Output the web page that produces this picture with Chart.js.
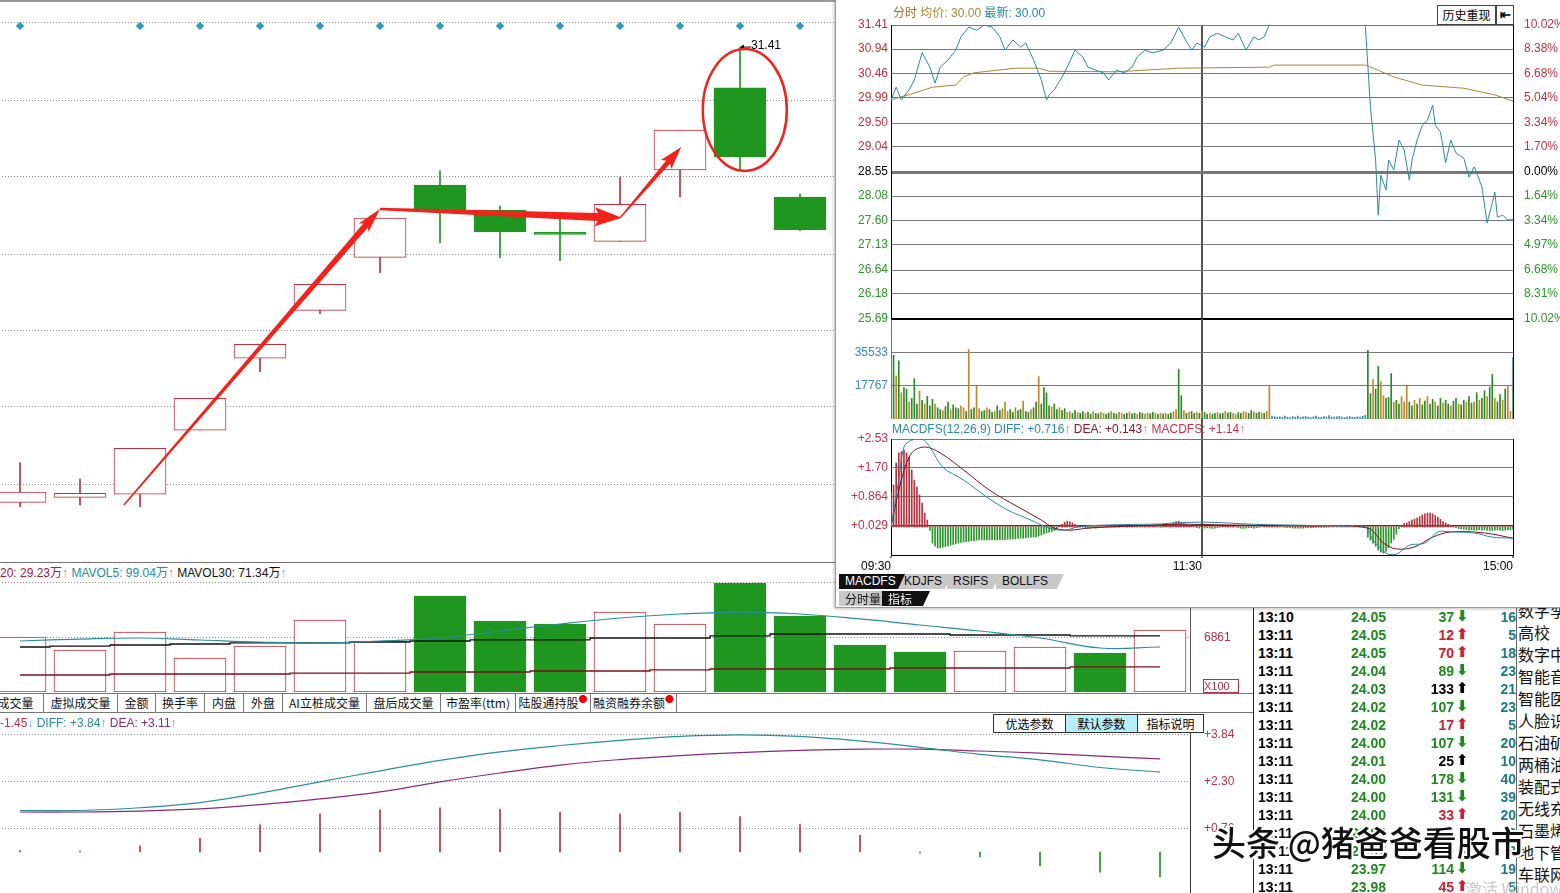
<!DOCTYPE html>
<html><head><meta charset="utf-8">
<script src="https://cdn.jsdelivr.net/npm/chart.js@4.4.1/dist/chart.umd.min.js"></script>
<style>
html,body{margin:0;padding:0;background:#fff;overflow:hidden;width:1560px;height:893px;font-family:'Liberation Sans','Noto Sans CJK SC',sans-serif;}
.a{position:absolute;white-space:nowrap;}
.ln{position:absolute;}
.ltab{position:absolute;top:694px;height:18px;line-height:18px;font-size:12px;text-align:center;border-right:1px solid #777;background:#fff;font-family:'Noto Sans CJK SC','Liberation Sans',sans-serif;color:#111;}
.dot{color:#e00;font-size:9px;vertical-align:top;line-height:9px;}
.btn{position:absolute;top:714px;height:17px;line-height:17px;font-size:12px;text-align:center;border:1px solid #333;background:#fff;font-family:'Noto Sans CJK SC',sans-serif;}
.otab{position:absolute;height:15px;line-height:15px;font-size:12px;padding-left:6px;clip-path:polygon(0 0,100% 0,calc(100% - 7px) 100%,0 100%);}
.tr{position:absolute;left:0;width:262px;height:18px;font:bold 14px 'Liberation Sans',sans-serif;line-height:18px;}
.tr span{position:absolute;}
</style></head><body>
<script>
// ---------------- daily data (left panel) ----------------
const dayLabels = ['D01','D02','D03','D04','D05','D06','D07','D08','D09','D10','D11','D12','D13','D14','D15','D16','D17','D18','D19','D20'];
const candleOpen  = [15.71,15.88,15.99,18.20,20.68,22.33,24.16,26.65,25.79,24.96,24.71,27.17,30.00,26.24];
const candleClose = [16.06,16.02,17.57,19.30,21.16,23.23,25.51,25.79,25.04,24.95,25.99,28.55,27.62,25.11];
const candleHigh  = [17.08,16.52,17.57,19.30,21.16,23.23,25.51,27.14,25.93,25.51,26.93,28.55,31.41,26.34];
const candleLow   = [15.56,15.62,15.56,18.20,20.22,22.22,23.63,24.66,24.15,24.04,24.71,26.24,27.17,25.08];
const markerFlags = [1,0,1,1,1,1,1,1,1,1,1,1,1,1];
const markerLevel = 32.14;
const priceGrid = [32.24,29.58,26.93,24.27,21.65,19.00,16.34];

const volumes = [69.9,53.4,76.2,43.2,58.5,91.5,64.8,122.0,90.2,86.4,101.6,86.4,138.5,96.6,59.7,50.8,52.1,57.2,49.6,78.8];
const volUp   = [1,1,1,1,1,1,1,0,0,0,1,1,0,0,0,0,1,1,0,1];
const mavol5  = [64.8,67.3,68.6,66.1,63.5,62.3,64.8,68.6,77.5,86.4,94.0,99.1,101.6,99.1,92.8,85.1,77.5,68.6,55.9,57.2];
const mavol30 = [57.2,58.4,59.7,61.0,62.3,62.3,63.5,64.8,66.1,66.1,68.6,68.6,71.2,73.7,73.7,73.7,72.4,72.4,71.2,71.2];
const mavol20 = [21.6,21.6,22.9,22.9,22.9,24.1,24.1,25.4,25.4,26.7,26.7,28.0,29.2,29.2,29.2,30.5,30.5,30.5,31.8,31.8];
const volGrid = [68.61,138.5];
const volTickLabels = ['6861',''];

const difLine = [1.36,1.36,1.45,1.62,1.93,2.30,2.66,3.00,3.28,3.49,3.66,3.79,3.84,3.79,3.64,3.43,3.20,3.02,2.77,2.62];
const deaLine = [1.31,1.31,1.34,1.41,1.55,1.74,1.97,2.30,2.59,2.85,3.03,3.16,3.26,3.33,3.37,3.37,3.31,3.24,3.14,3.05];
const macdBars = [0.05,0.03,0.20,0.45,0.89,1.25,1.38,1.45,1.40,1.30,1.25,1.30,1.16,0.90,0.55,-0.03,-0.16,-0.46,-0.66,-0.82];
const macdGrid = [3.84,2.30,0.76];
const macdTickLabels = ['+3.84','+2.30','+0.76'];

// ---------------- intraday data (right window) ----------------
const fsMinutes = [0,2,4,7,9,12,15,17,19,22,25,27,30,33,36,39,42,44,47,50,52,55,58,60,61,63,66,68,71,74,76,79,82,84,87,90,93,95,98,101,105,108,111,113,116,118,121,123,126,129,132,134,137,140,142,144,146,183,185,187,188,189,191,192,194,196,198,200,201,203,205,207,209,210,212,214,216,218,221,223,225,226,228,230,232,233,234,236,238,240];
const fsPrice = [29.95,30.20,29.95,30.15,30.34,30.87,30.59,30.28,30.59,30.73,30.92,31.18,31.37,31.31,31.41,31.37,31.18,30.92,31.12,30.98,31.06,30.73,30.34,29.95,30.05,30.15,30.40,30.59,30.92,30.79,30.59,30.53,30.48,30.34,30.53,30.48,30.59,30.79,30.92,30.87,30.92,31.06,31.37,31.18,30.92,31.06,30.98,31.18,31.25,31.18,31.12,31.25,30.92,31.18,31.12,31.18,31.41,31.41,29.81,28.78,27.71,28.49,28.20,28.78,28.59,29.17,28.98,28.39,28.78,29.17,29.46,29.56,29.85,29.46,29.33,28.73,29.17,28.92,28.82,28.45,28.65,28.53,28.26,27.56,27.95,28.16,27.67,27.71,27.62,27.62];
const avgMinutes = [0,5,10,16,20,25,28,32,41,48,57,61,87,111,146,148,183,188,194,205,221,233,240];
const avgPrice = [29.95,30.03,30.10,30.20,30.22,30.24,30.40,30.48,30.53,30.57,30.57,30.51,30.50,30.57,30.59,30.63,30.63,30.53,30.40,30.24,30.18,30.05,29.93];
const fsPriceTicks = [31.41,30.94,30.46,29.99,29.50,29.04,28.55,28.08,27.60,27.13,26.64,26.18,25.69];
const fsPctLabels = ['10.02%','8.38%','6.68%','5.04%','3.34%','1.70%','0.00%','1.64%','3.34%','4.97%','6.68%','8.31%','10.02%'];
const prevClose = 28.55;

const fsVolume = [
53000,34000,23000,31000,14000,16700,16000,9000,11000,21500,8000,15000,10000,8000,12000,
7000,10500,8000,6000,5000,4500,6500,9000,5000,7500,6000,5500,7000,6000,4000,
37000,5000,6000,17700,5500,4000,4500,6000,5000,3500,4000,7000,4500,5500,9000,
4000,5000,3500,6000,4500,5000,9500,4000,3500,5000,6000,9000,22600,8000,16700,
14000,7000,6500,8000,5000,6000,4500,5500,3500,4000,3000,4500,3500,3000,4000,
3000,3500,2500,4000,3000,2800,3500,3000,2500,3200,4000,3000,2600,3500,3000,
2500,3000,3800,2800,3000,2500,3500,3000,2600,3200,2800,3500,3000,2500,3000,
2800,3000,2500,3200,4000,5000,26400,12400,4500,3000,3500,4000,3000,3500,3000,
4500,3500,2500,3000,2500,3000,3500,2800,3000,4000,3200,3500,3000,2600,3500,
3000,4000,3500,3000,4500,3800,3000,3500,3200,3000,4000,17700,1500,1200,1000,
1200,900,1500,1000,800,1300,1000,1600,900,1100,1400,1000,800,1200,1500,900,1000,1300,1100,1800,1000,900,1200,1400,1000,800,1100,1300,1000,900,1200,1000,1500,2000,
36600,13500,21000,16000,28000,20000,12400,11000,11500,24200,9000,10000,8000,12000,9000,
17700,9000,7000,10000,8000,11000,7500,9500,12000,8000,10500,9000,7000,11000,8500,
10000,8000,7000,9500,11000,8000,7500,10000,9000,12000,8500,9000,14000,10000,11000,
15000,12000,17000,23700,11000,9000,13000,10000,16000,17700,4000,32800];
const fsTickDir =
 'udududdudddudud'+'dduddudduddduud'+'udduudduddudduu'+'udduddudduddudd'+'dduddudduuddudd'+
 'uddudduuddudduu'+'dduddudduuddudu'+'dudduuddududdud'+'uddudduddudduud'+'duuddudduduufff'+
 'ffffffffffffffffffffffffffffffffff'+
 'ddudduudddudduu'+'uddududdudduddu'+'dduddudduddudud'+'duddudduduuf';
const fsVolTicks = [17767,35533];

const fsMacd = [
1.00,1.21,1.84,2.13,2.16,2.21,2.13,2.01,1.64,1.35,1.15,0.92,0.69,0.40,0.20,
-0.10,-0.46,-0.55,-0.60,-0.60,-0.58,-0.56,-0.54,-0.52,-0.50,-0.48,-0.46,-0.44,-0.43,-0.42,
-0.41,-0.40,-0.39,-0.38,-0.37,-0.37,-0.37,-0.37,-0.37,-0.37,-0.37,-0.37,-0.36,-0.36,-0.36,
-0.35,-0.35,-0.34,-0.34,-0.33,-0.32,-0.32,-0.31,-0.30,-0.29,-0.29,-0.28,-0.26,-0.23,-0.20,
-0.17,-0.15,-0.13,-0.10,-0.06,0.02,0.08,0.14,0.17,0.15,0.12,0.08,0.05,0.03,0.01,
-0.02,-0.03,-0.03,-0.02,-0.03,-0.02,-0.01,0.00,0.02,0.03,0.04,0.05,0.03,0.02,0.01,
0.00,0.02,0.03,0.04,0.05,0.06,0.04,0.03,0.02,0.03,0.04,0.03,0.02,0.00,-0.01,
0.02,0.03,0.05,0.08,0.12,0.16,0.17,0.14,0.10,0.07,0.04,0.02,0.00,-0.02,-0.03,
-0.04,-0.03,-0.02,-0.03,-0.04,-0.03,-0.02,0.00,0.02,0.03,0.04,0.03,0.02,0.00,-0.02,
-0.03,-0.04,-0.03,-0.02,-0.02,-0.03,-0.02,-0.01,0.00,0.02,0.04,0.05,0.04,0.03,0.02,
0.01,0.00,-0.01,-0.02,-0.02,-0.03,-0.03,-0.03,-0.03,-0.03,-0.02,-0.02,-0.02,-0.02,-0.01,-0.01,-0.01,-0.01,-0.01,0,0,0,0,0,0,0,0,0,0,0,0,0,0,0,
-0.29,-0.37,-0.46,-0.55,-0.66,-0.72,-0.75,-0.70,-0.60,-0.46,-0.35,-0.20,-0.05,0.05,0.10,
0.12,0.16,0.20,0.23,0.26,0.30,0.35,0.38,0.40,0.40,0.38,0.33,0.28,0.22,0.16,
0.12,0.08,0.05,0.02,-0.02,-0.04,-0.05,-0.06,-0.07,-0.08,-0.08,-0.09,-0.09,-0.08,-0.09,
-0.08,-0.09,-0.10,-0.09,-0.09,-0.08,-0.09,-0.10,-0.09,-0.08,-0.08,-0.07];
const diffMin = [0,3,5,8,12,15,20,28,37,45,54,61,67,72,80,90,104,110,122,140,160,175,183,186,191,195,200,206,211,216,225,232,240];
const diffVal = [0.0,1.35,2.30,2.50,2.53,2.30,1.72,1.35,0.86,0.49,0.20,-0.03,-0.09,0.0,0.05,0.07,0.09,0.12,0.14,0.08,0.05,0.03,0.0,-0.37,-0.75,-0.78,-0.52,-0.46,-0.14,-0.14,-0.17,-0.29,-0.32];
const deaMin = [0,4,8,13,19,28,38,49,58,63,69,76,90,110,130,160,184,190,195,202,209,216,229,240];
const deaVal = [0.0,1.35,2.13,2.30,2.13,1.64,1.06,0.58,0.20,-0.03,-0.09,-0.03,0.02,0.08,0.06,0.03,-0.03,-0.46,-0.63,-0.57,-0.29,-0.14,-0.17,-0.32];
const fsMacdTicks = [2.53,1.70,0.864,0.029];
const fsMacdLabels = ['+2.53','+1.70','+0.864','+0.029'];
const timeTickMinutes = [0,120,240];
const timeTickLabels = ['09:30','11:30','15:00'];

// ---------------- trade list ----------------
const tradeTimes  = ['13:10','13:11','13:11','13:11','13:11','13:11','13:11','13:11','13:11','13:11','13:11','13:11','13:11','13:11','13:11','13:11'];
const tradePrices = ['24.05','24.05','24.05','24.04','24.03','24.02','24.02','24.00','24.01','24.00','24.00','24.00','23.98','23.97','23.97','23.98'];
const tradeVols   = [37,12,70,89,133,107,17,107,25,178,131,33,21,9,114,45];
const tradeDirs   = ['d','u','u','d','n','d','u','d','n','d','d','u','d','d','d','u'];
const tradeCounts = [16,5,18,23,21,23,5,20,10,40,39,20,2,3,19,5];
const sectorNames = ['数字孪','高校','数字中','智能音','智能医','人脸识','石油矿','两桶油','装配式','无线充','石墨烯','地下管','车联网'];

// ---------------- setup ----------------
const RED = '#c0303c', GREEN = '#1f961f', TEAL = '#2a8a9a';
Chart.defaults.font.family = "'Liberation Sans','Noto Sans CJK SC',sans-serif";
Chart.defaults.font.size = 12;
Chart.defaults.color = '#000';
Chart.defaults.animation = false;
Chart.defaults.responsive = false;
Chart.defaults.maintainAspectRatio = false;
Chart.defaults.devicePixelRatio = 1;
Chart.defaults.events = [];
Chart.defaults.layout.autoPadding = false;
Chart.defaults.plugins.legend.display = false;
Chart.defaults.plugins.tooltip.enabled = false;

function cv(left, top, w, h, z){
  const c = document.createElement('canvas');
  c.width = w; c.height = h;
  c.style.cssText = `position:absolute;left:${left}px;top:${top}px;width:${w}px;height:${h}px;z-index:${z}`;
  document.body.appendChild(c);
  return c;
}
const setTicks = vals => s => { s.ticks = vals.map(v => ({value: v})); };
// fixed axis sizes, and no extra label padding pushed into the layout
const fitW = w => s => { s.width = w; s.paddingTop = 0; s.paddingBottom = 0; };
const fitH = h => s => { s.height = h; s.paddingLeft = 0; s.paddingRight = 0; };

// ---------- annotation plugin (hand drawn arrows on the daily chart) ----------
const drawMarks = {
  arrows: [
    {from:[1.73,15.62], to:[6.0,25.83], w0:1.5, w1:6, hw:13, hl:22},
    {from:[6.0,25.83], to:[10.03,25.52], w0:2.5, w1:8, hw:19, hl:24},
    {from:[10.0,25.52], to:[11.02,27.96], w0:1.5, w1:5, hw:14, hl:20}
  ],
  ring: {center:[12.08,29.24], rx:0.7, ry:2.1}
};
const annotate = {
  id:'annotate',
  afterDatasetsDraw(chart){
    const {ctx, scales:{x, y}} = chart;
    ctx.save();
    let hi = 0; candleHigh.forEach((v,i)=>{ if (v > candleHigh[hi]) hi = i; });
    const hx = x.getPixelForValue(hi), hy = y.getPixelForValue(candleHigh[hi]);
    ctx.strokeStyle = '#000'; ctx.fillStyle = '#000'; ctx.lineWidth = 1;
    ctx.beginPath(); ctx.moveTo(hx+1, hy); ctx.lineTo(hx+11, hy); ctx.stroke();
    ctx.beginPath(); ctx.moveTo(hx, hy); ctx.lineTo(hx+4, hy-2.5); ctx.lineTo(hx+4, hy+2.5); ctx.closePath(); ctx.fill();
    ctx.font = "12px 'Liberation Sans'"; ctx.textBaseline = 'middle'; ctx.textAlign = 'left';
    ctx.fillText(candleHigh[hi].toFixed(2), hx+11, hy-1);
    ctx.fillStyle = '#f2221c';
    drawMarks.arrows.forEach(a => {
      const x1 = x.getPixelForValue(a.from[0]), y1 = y.getPixelForValue(a.from[1]);
      const x2 = x.getPixelForValue(a.to[0]), y2 = y.getPixelForValue(a.to[1]);
      const dx = x2-x1, dy = y2-y1, L = Math.hypot(dx,dy), ux = dx/L, uy = dy/L, nx = -uy, ny = ux;
      const bx = x2-ux*a.hl, by = y2-uy*a.hl;
      ctx.beginPath();
      ctx.moveTo(x1+nx*a.w0/2, y1+ny*a.w0/2);
      ctx.lineTo(bx+nx*a.w1/2, by+ny*a.w1/2);
      ctx.lineTo(bx+nx*a.hw/2 - ux*3, by+ny*a.hw/2 - uy*3);
      ctx.lineTo(x2, y2);
      ctx.lineTo(bx-nx*a.hw/2 - ux*3, by-ny*a.hw/2 - uy*3);
      ctx.lineTo(bx-nx*a.w1/2, by-ny*a.w1/2);
      ctx.lineTo(x1-nx*a.w0/2, y1-ny*a.w0/2);
      ctx.closePath(); ctx.fill();
    });
    const r = drawMarks.ring;
    const cx = x.getPixelForValue(r.center[0]), cy = y.getPixelForValue(r.center[1]);
    const rx = x.getPixelForValue(r.center[0]+r.rx) - cx, ry = cy - y.getPixelForValue(r.center[1]+r.ry);
    ctx.strokeStyle = '#f2221c'; ctx.lineWidth = 2.5;
    ctx.beginPath(); ctx.ellipse(cx, cy, rx, ry, 0, 0, Math.PI*2); ctx.stroke();
    ctx.restore();
  }
};

// ---------- left: daily candles ----------
const isUp = candleOpen.map((o,i) => candleClose[i] >= o);
new Chart(cv(-10, 2, 1200, 558, 1), {
  type:'bar',
  data:{ labels: dayLabels, datasets:[
    { type:'line', data: markerFlags.map(f => f ? markerLevel : null), showLine:false, pointStyle:'rectRot',
      pointRadius:4.2, pointBackgroundColor:'#2f97c1', pointBorderWidth:0, order:0 },
    { data: candleOpen.map((o,i) => [o, candleClose[i]]), backgroundColor: isUp.map(u => u ? '#fff' : GREEN),
      borderColor: isUp.map(u => u ? RED : GREEN), borderWidth:1, borderSkipped:false, barThickness:52,
      minBarLength:2, grouped:false, order:1 },
    { data: candleLow.map((l,i) => [l, candleHigh[i]]), backgroundColor: isUp.map(u => u ? RED : GREEN),
      barThickness:1, grouped:false, order:2 }
  ]},
  options:{
    layout:{padding:0},
    scales:{
      x:{ display:false, offset:true },
      y:{ position:'right', min:13.722, max:32.964, afterBuildTicks: setTicks(priceGrid),
          ticks:{display:false}, grid:{color:'#8a8a8a', drawTicks:false}, border:{display:false, dash:[1,2]},
          afterFit: fitW(0) }
    }
  },
  plugins:[annotate]
});

// ---------- left: daily volume ----------
new Chart(cv(-10, 580, 1260, 112, 1), {
  type:'bar',
  data:{ labels: dayLabels, datasets:[
    { type:'line', data: mavol5, borderColor:'#2a8f9a', borderWidth:1.2, pointRadius:0, tension:0.4, order:0 },
    { type:'line', data: mavol30, borderColor:'#111', borderWidth:1.3, pointRadius:0, stepped:'middle', order:0 },
    { type:'line', data: mavol20, borderColor:'#7a1020', borderWidth:1.3, pointRadius:0, stepped:'middle', order:0 },
    { data: volumes, backgroundColor: volUp.map(u => u ? '#fff' : GREEN), borderColor: volUp.map(u => u ? RED : GREEN),
      borderWidth:1, borderSkipped:false, barThickness:52, order:1 }
  ]},
  options:{
    scales:{
      x:{ ticks:{display:false}, grid:{display:false}, border:{color:'#7a1020'}, afterFit: fitH(0) },
      y:{ position:'right', min:0, max:142.3, afterBuildTicks: setTicks(volGrid),
          ticks:{ callback:(v,i) => volTickLabels[i], color:'#b03048', padding:14 },
          grid:{ color:'#8a8a8a', drawTicks:false }, border:{ color:'#555', dash:[1,2] },
          afterFit: fitW(60) }
    }
  }
});

// ---------- left: daily MACD ----------
new Chart(cv(-10, 720, 1260, 173, 1), {
  type:'bar',
  data:{ labels: dayLabels, datasets:[
    { type:'line', data: difLine, borderColor:'#2a8f9a', borderWidth:1.2, pointRadius:0, tension:0.4, order:0 },
    { type:'line', data: deaLine, borderColor:'#8a2a7a', borderWidth:1.2, pointRadius:0, tension:0.4, order:0 },
    { data: macdBars, backgroundColor: macdBars.map(v => v >= 0 ? RED : GREEN), barThickness:1, order:1 }
  ]},
  options:{
    layout:{ padding:{ top:13 } },
    scales:{
      x:{ display:false },
      y:{ position:'right', min:-1.344, max:3.90, afterBuildTicks: setTicks(macdGrid),
          ticks:{ callback:(v,i) => macdTickLabels[i], color:'#c03048', padding:14 },
          grid:{ color:'#8a8a8a', drawTicks:false }, border:{ color:'#333', dash:[1,2] },
          afterFit: fitW(60) }
    }
  }
});
</script>

<!-- left panel HTML furniture -->
<div class="ln" style="left:0;top:0;width:840px;height:2px;background:#9a9a9a;z-index:2"></div>
<div class="ln" style="left:0;top:562px;width:1253px;height:1px;background:#707070;z-index:2"></div>
<div class="a" style="left:0;top:566px;font-size:12px;line-height:14px;z-index:2">
 <span style="color:#a0203a">20: 29.23万</span><span style="color:#f06080">↑</span>
 <span style="color:#2a8a9a">MAVOL5: 99.04万</span><span style="color:#f06080">↑</span>
 <span style="color:#111">MAVOL30: 71.34万</span><span style="color:#f06080">↑</span>
</div>
<div class="a" style="left:1203px;top:679px;width:34px;height:12px;border:1px solid #b03048;color:#b03048;font-size:11px;line-height:12px;z-index:2">X100</div>
<div class="ln" style="left:0;top:693px;width:1253px;height:1px;background:#777;z-index:2"></div>
<div class="ln" style="left:0;top:712px;width:1253px;height:1px;background:#777;z-index:2"></div>
<div class="ltab" style="left:-12px;width:55px">成交量</div>
<div class="ltab" style="left:44px;width:73px">虚拟成交量</div>
<div class="ltab" style="left:118px;width:37px">金额</div>
<div class="ltab" style="left:156px;width:48px">换手率</div>
<div class="ltab" style="left:205px;width:38px">内盘</div>
<div class="ltab" style="left:244px;width:38px">外盘</div>
<div class="ltab" style="left:283px;width:83px">AI立桩成交量</div>
<div class="ltab" style="left:367px;width:73px">盘后成交量</div>
<div class="ltab" style="left:441px;width:74px">市盈率(ttm)</div>
<div class="ltab" style="left:516px;width:74px">陆股通持股<span class="dot">●</span></div>
<div class="ltab" style="left:591px;width:85px">融资融券余额<span class="dot">●</span></div>
<div class="a" style="left:0;top:716px;font-size:12px;line-height:14px;z-index:2">
 <span style="color:#c03048">-1.45</span><span style="color:#58b8d8">↓</span>
 <span style="color:#2a8a9a">DIFF: +3.84</span><span style="color:#f06080">↑</span>
 <span style="color:#8a2a7a">DEA: +3.11</span><span style="color:#f06080">↑</span>
</div>
<div class="btn" style="left:993px;width:71px">优选参数</div>
<div class="btn" style="left:1065px;width:71px;background:#b8eef8">默认参数</div>
<div class="btn" style="left:1137px;width:65px">指标说明</div>

<!-- right intraday window -->
<div class="ln" style="left:835px;top:0;width:725px;height:607px;background:#fff;border-left:1px solid #9a9a9a;border-bottom:1px solid #9a9a9a;box-shadow:-1px 1px 3px rgba(0,0,0,0.25);z-index:5"></div>
<script>
const priceColor = i => i < 6 ? '#c0303c' : (i === 6 ? '#000' : '#2a962a');
new Chart(cv(836, 0, 724, 328, 6), {
  type:'line',
  data:{ datasets:[
    { data: fsMinutes.map((m,i) => ({x:m, y:fsPrice[i]})), borderColor:'#2a8a9a', borderWidth:1, pointRadius:0 },
    { data: avgMinutes.map((m,i) => ({x:m, y:avgPrice[i]})), borderColor:'#a8883a', borderWidth:1, pointRadius:0 }
  ]},
  options:{
    layout:{ padding:{ top:25, bottom:9 } },
    scales:{
      x:{ type:'linear', min:0, max:240, afterBuildTicks: setTicks([120]), ticks:{display:false},
          grid:{ color:'#555', lineWidth:2, drawTicks:false }, border:{display:false}, afterFit: fitH(0) },
      y:{ position:'left', min:25.69, max:31.41, afterBuildTicks: setTicks(fsPriceTicks),
          ticks:{ callback: v => v.toFixed(2), color: c => priceColor(c.index), padding:3 },
          grid:{ drawTicks:false, color: c => c.index === 12 ? '#000' : '#777',
                 lineWidth: c => c.index === 6 ? 3 : (c.index === 12 ? 2 : 1) },
          border:{ color:'#000' }, afterFit: fitW(55) },
      y2:{ position:'right', min:25.69, max:31.41, afterBuildTicks: setTicks(fsPriceTicks),
          ticks:{ callback:(v,i) => fsPctLabels[i], color: c => priceColor(c.index), padding:3 },
          grid:{ display:false }, border:{ color:'#000' }, afterFit: fitW(47) }
    }
  }
});
const dirColor = {u:'#c4862c', d:'#2a8a22', f:'#3a8caa'};
new Chart(cv(836, 319, 724, 100, 6), {
  type:'bar',
  data:{ datasets:[
    { data: fsVolume.map((v,i) => ({x:i, y:v})), backgroundColor: fsVolume.map((v,i) => dirColor[fsTickDir[i]]), barThickness:1 }
  ]},
  options:{
    scales:{
      x:{ type:'linear', min:0, max:240, offset:false, afterBuildTicks: setTicks([120]), ticks:{display:false},
          grid:{ color:'#555', lineWidth:2, drawTicks:false, offset:false }, border:{ color:'#000' }, afterFit: fitH(0) },
      y:{ position:'left', min:0, max:53300, afterBuildTicks: setTicks(fsVolTicks),
          ticks:{ callback: v => String(v), color:'#3a8aaa', padding:3 },
          grid:{ color:'#777', drawTicks:false }, border:{ color:'#000' }, afterFit: fitW(55) },
      y2:{ position:'right', min:0, max:53300, ticks:{display:false}, grid:{display:false},
           border:{ color:'#000' }, afterFit: fitW(47) }
    }
  }
});
new Chart(cv(836, 431, 724, 142, 6), {
  type:'bar',
  data:{ datasets:[
    { type:'line', data: diffMin.map((m,i) => ({x:m, y:diffVal[i]})), borderColor:'#2a8aa0', borderWidth:1, pointRadius:0, tension:0.35, order:0 },
    { type:'line', data: deaMin.map((m,i) => ({x:m, y:deaVal[i]})), borderColor:'#7a1020', borderWidth:1, pointRadius:0, tension:0.35, order:0 },
    { data: fsMacd.map((v,i) => ({x:i, y:v})), backgroundColor: fsMacd.map(v => v >= 0 ? '#b8303c' : '#2a962a'), barThickness:1, order:1 }
  ]},
  options:{
    layout:{ padding:{ top:8 } },
    scales:{
      x:{ type:'linear', min:0, max:240, offset:false, afterBuildTicks: setTicks(timeTickMinutes),
          ticks:{ callback:(v,i) => timeTickLabels[i], align:'end', padding:1, color:'#000', maxRotation:0, autoSkip:false },
          grid:{ offset:false, color: c => (c.tick && c.tick.value === 120) ? '#555' : 'rgba(0,0,0,0)', lineWidth:2, tickColor:'#000', tickLength:3, tickWidth:1 },
          border:{ color:'#000' }, afterFit: fitH(18) },
      y:{ position:'left', min:-0.803, max:2.53, afterBuildTicks: setTicks(fsMacdTicks),
          ticks:{ callback:(v,i) => fsMacdLabels[i], color:'#c0304a', padding:3 },
          grid:{ drawTicks:false, color: c => c.index === 3 ? '#8a1a1a' : '#777', lineWidth: c => c.index === 3 ? 1.5 : 1 },
          border:{ color:'#000' }, afterFit: fitW(55) },
      y2:{ position:'right', min:-0.803, max:2.53, ticks:{display:false}, grid:{display:false},
           border:{ color:'#000' }, afterFit: fitW(47) }
    }
  }
});
</script>
<div class="a" style="left:893px;top:6px;font-size:12px;line-height:15px;z-index:7">
 <span style="color:#a0702a">分时</span> <span style="color:#a8883a">均价: 30.00</span> <span style="color:#2a8a9a">最新: 30.00</span>
</div>
<div class="a" style="left:1437px;top:5px;width:57px;height:18px;border:1px solid #444;background:#fff;font-size:12px;line-height:18px;text-align:center;z-index:7;font-family:'Noto Sans CJK SC',sans-serif">历史重现</div>
<div class="a" style="left:1496px;top:5px;width:16px;height:18px;border:1px solid #444;background:#fff;font-size:13px;line-height:18px;text-align:center;font-weight:bold;z-index:7">⇤</div>
<div class="ln" style="left:1201px;top:418px;width:2px;height:21px;background:#555;z-index:7"></div>
<div class="a" style="left:892px;top:422px;font-size:12px;line-height:14px;z-index:7">
 <span style="color:#2a8aaa">MACDFS(12,26,9) DIFF: +0.716</span><span style="color:#f06080">↑</span>
 <span style="color:#8a1a2a">DEA: +0.143</span><span style="color:#f06080">↑</span>
 <span style="color:#d0304a">MACDFS: +1.14</span><span style="color:#f06080">↑</span>
</div>
<div class="otab" style="left:839px;top:574px;width:60px;background:#111;color:#fff;z-index:8">MACDFS</div>
<div class="otab" style="left:898px;top:574px;width:48px;background:#c8c8c8;color:#111;z-index:7">KDJFS</div>
<div class="otab" style="left:947px;top:574px;width:47px;background:#c8c8c8;color:#111;z-index:7">RSIFS</div>
<div class="otab" style="left:996px;top:574px;width:62px;background:#c8c8c8;color:#111;z-index:7">BOLLFS</div>
<div class="otab" style="left:839px;top:591px;width:44px;background:#c8c8c8;color:#111;z-index:7;font-family:'Noto Sans CJK SC',sans-serif">分时量</div>
<div class="otab" style="left:882px;top:591px;width:42px;background:#111;color:#fff;z-index:8;font-family:'Noto Sans CJK SC',sans-serif">指标</div>

<!-- trade list -->
<div id="trades" class="ln" style="left:1253px;top:607px;width:307px;height:286px;background:#fff;border-left:1px solid #222;overflow:hidden;z-index:3"></div>
<script>
(function(){
  const box = document.getElementById('trades');
  const vc = {d:'#1e8a1e', u:'#d02030', n:'#000'};
  const ar = {d:'⬇', u:'⬆', n:'⬆'};
  let h = '';
  tradeTimes.forEach((t,i) => {
    h += `<div class="tr" style="top:${1+i*18}px">
      <span style="left:4px;color:#000">${t}</span>
      <span style="left:97px;color:#1e8a1e">${tradePrices[i]}</span>
      <span style="right:62px;color:${vc[tradeDirs[i]]}">${tradeVols[i]}</span>
      <span style="left:202px;top:-1px;color:${vc[tradeDirs[i]]};font-family:'DejaVu Sans';font-size:15px">${ar[tradeDirs[i]]}</span>
      <span style="right:0;color:#1a7a8a">${tradeCounts[i]}</span></div>`;
  });
  h += `<div style="position:absolute;left:262px;top:0;width:60px;height:286px;border-left:1px solid #666;background:#fff"></div>`;
  sectorNames.forEach((s,i) => {
    h += `<div style="position:absolute;left:264px;top:${-7+i*22}px;font:16px/20px 'Noto Sans CJK SC',sans-serif;color:#111;white-space:nowrap">${s}</div>`;
  });
  box.innerHTML = h;
})();
</script>
<div class="a" style="left:1466px;top:876px;font-size:16px;color:#c8c8c8;z-index:9;font-family:'Noto Sans CJK SC',sans-serif">激活 Windows</div>
<div class="a" style="left:1212px;top:818px;font-size:34px;line-height:48px;color:#111;z-index:10;font-family:'Noto Sans CJK SC',sans-serif;font-weight:500;text-shadow:2px 0 #fff,-2px 0 #fff,0 2px #fff,0 -2px #fff,1.5px 1.5px #fff,-1.5px -1.5px #fff,1.5px -1.5px #fff,-1.5px 1.5px #fff">头条 @猪爸爸看股市</div>
</body></html>
